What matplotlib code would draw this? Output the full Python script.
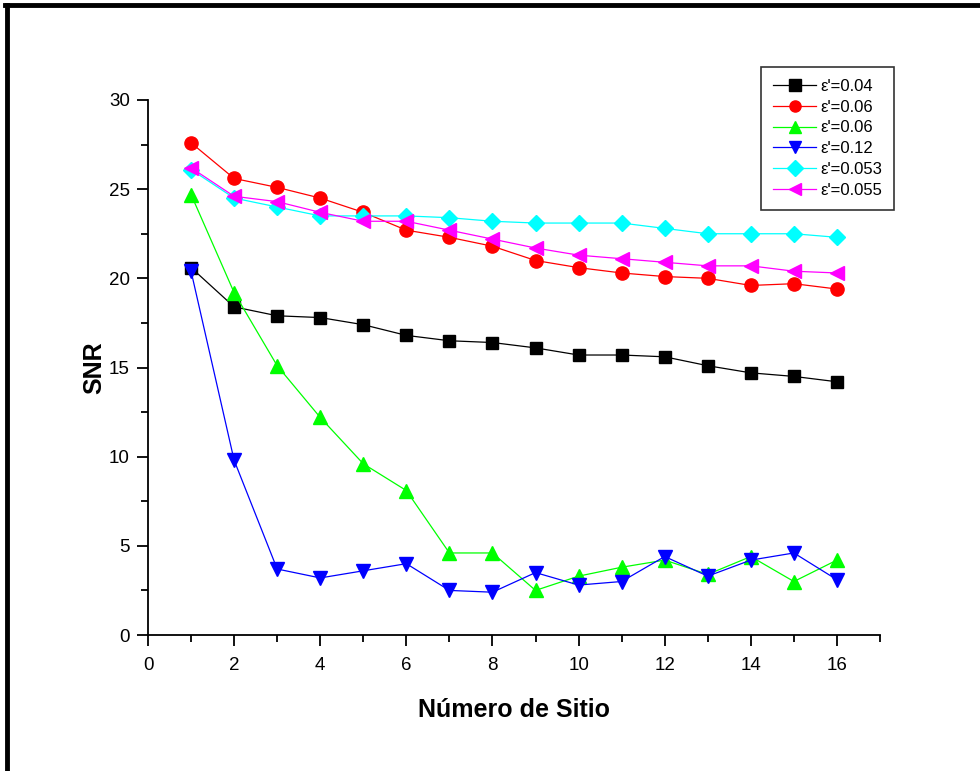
import matplotlib
matplotlib.use("Agg")

import matplotlib.pyplot as plt
from matplotlib.lines import Line2D
from matplotlib.ticker import MultipleLocator
import numpy as np

plt.rcParams['font.family'] = ['Liberation Sans', 'DejaVu Sans']

sites = np.arange(1, 17)

snr_004 = [20.6, 18.4, 17.9, 17.8, 17.4, 16.8, 16.5, 16.4, 16.1, 15.7, 15.7, 15.6, 15.1, 14.7, 14.5, 14.2]
snr_006a = [27.6, 25.6, 25.1, 24.5, 23.7, 22.7, 22.3, 21.8, 21.0, 20.6, 20.3, 20.1, 20.0, 19.6, 19.7, 19.4]
snr_006b = [24.7, 19.2, 15.1, 12.2, 9.6, 8.1, 4.6, 4.6, 2.5, 3.3, 3.8, 4.2, 3.4, 4.4, 3.0, 4.2]
snr_012 = [20.4, 9.8, 3.7, 3.2, 3.6, 4.0, 2.5, 2.4, 3.5, 2.8, 3.0, 4.4, 3.3, 4.2, 4.6, 3.1]
snr_0053 = [26.1, 24.5, 24.0, 23.5, 23.5, 23.5, 23.4, 23.2, 23.1, 23.1, 23.1, 22.8, 22.5, 22.5, 22.5, 22.3]
snr_0055 = [26.2, 24.6, 24.3, 23.7, 23.2, 23.2, 22.7, 22.2, 21.7, 21.3, 21.1, 20.9, 20.7, 20.7, 20.4, 20.3]

labels = ["ε'=0.04", "ε'=0.06", "ε'=0.06", "ε'=0.12", "ε'=0.053", "ε'=0.055"]
series = [snr_004, snr_006a, snr_006b, snr_012, snr_0053, snr_0055]
colors = ["#000000", "#ff0000", "#00ff00", "#0000ff", "#00ffff", "#ff00ff"]
markers = ["s", "o", "^", "v", "D", "<"]
msizes = [8, 9.5, 9.5, 9.5, 8, 9.5]

fig = plt.figure(figsize=(9.8, 7.71), dpi=100)
ax = fig.add_axes([148 / 980, 136 / 771, 732 / 980, 535 / 771])

for y, lab, c, m, ms in zip(series, labels, colors, markers, msizes):
    ax.plot(sites, y, color=c, marker=m, markersize=ms, linewidth=0.9,
            markeredgecolor=c, label=lab)

ax.set_xlim(0, 17)
ax.set_ylim(0, 30)
ax.xaxis.set_major_locator(MultipleLocator(2))
ax.xaxis.set_minor_locator(MultipleLocator(1))
ax.yaxis.set_major_locator(MultipleLocator(5))
ax.yaxis.set_minor_locator(MultipleLocator(2.5))
ax.spines['top'].set_visible(False)
ax.spines['right'].set_visible(False)
for s in ['left', 'bottom']:
    ax.spines[s].set_linewidth(1.3)
ax.tick_params(which='major', direction='out', length=8, width=1.3, labelsize=13.5)
ax.tick_params(axis='x', which='major', pad=8)
ax.tick_params(axis='y', which='major', pad=5)
ax.tick_params(which='minor', direction='out', length=5, width=1.3)

ax.set_xlabel('Número de Sitio', fontsize=18, fontweight='bold', labelpad=17)
ax.set_ylabel('SNR', fontsize=18, fontweight='bold', labelpad=2)

leg = ax.legend(loc='upper right', bbox_to_anchor=(894 / 980, 704 / 771),
                bbox_transform=fig.transFigure, fontsize=12, frameon=True,
                fancybox=False, edgecolor='black', handlelength=2.6,
                borderpad=0.7, labelspacing=0.35, handletextpad=0.25,
                borderaxespad=0)
leg.get_frame().set_linewidth(1.2)
for h in leg.legend_handles:
    h.set_markersize(8)

# outer frame (top and left edges)
fig.add_artist(Line2D([5 / 980, 1], [1 - 5 / 771, 1 - 5 / 771], color='black', linewidth=3.5, transform=fig.transFigure))
fig.add_artist(Line2D([7 / 980, 7 / 980], [0, 1 - 5 / 771], color='black', linewidth=3.5, transform=fig.transFigure))

fig.savefig('out.png', dpi=100, facecolor='white')
